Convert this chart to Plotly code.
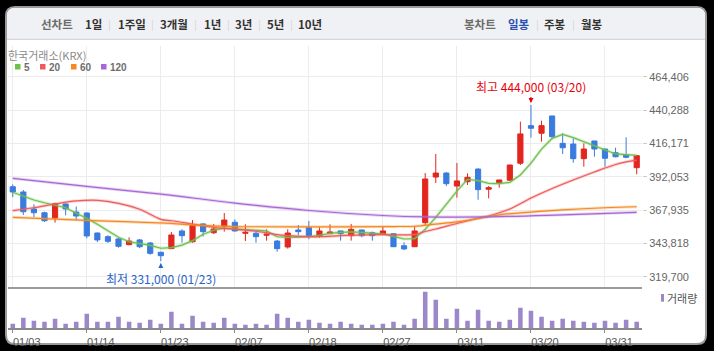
import plotly.graph_objects as go

# ---------------- data ----------------
dates = ["01/03", "01/06", "01/07", "01/08", "01/09", "01/10", "01/13", "01/14", "01/15", "01/16",
         "01/17", "01/20", "01/21", "01/22", "01/23", "01/24", "01/31", "02/03", "02/04", "02/05",
         "02/06", "02/07", "02/10", "02/11", "02/12", "02/13", "02/14", "02/17", "02/18", "02/19",
         "02/20", "02/21", "02/24", "02/25", "02/26", "02/27", "02/28", "03/04", "03/05", "03/06",
         "03/07", "03/10", "03/11", "03/12", "03/13", "03/14", "03/17", "03/18", "03/19", "03/20",
         "03/21", "03/24", "03/25", "03/26", "03/27", "03/28", "03/31", "04/01", "04/02", "04/03"]

opens = [384800, 381000, 368700, 366000, 362200, 372300, 366500, 365800, 351300, 348700,
         347000, 342900, 346300, 344100, 337400, 340000, 352800, 345000, 357900, 351500,
         356200, 359100, 351100, 351100, 349700, 345500, 341200, 353500, 355200, 348900,
         350800, 352800, 349400, 353500, 351500, 350800, 350800, 342100, 341400, 358800,
         391800, 394700, 385300, 388400, 397600, 383000, 387700, 389500, 401800, 429000,
         423500, 436000, 416200, 415700, 405100, 417900, 412100, 409400, 407800, 398600]
highs = [386500, 382400, 372100, 366700, 373200, 372800, 370400, 366300, 351800, 349700,
         347900, 348200, 347000, 344800, 337800, 352000, 354000, 360700, 358400, 357900,
         365800, 361200, 357600, 352500, 354000, 346300, 354000, 357100, 360000, 355500,
         357600, 352900, 357900, 353700, 352300, 355900, 351000, 344600, 356400, 394700,
         408500, 395500, 402000, 394500, 398100, 385300, 389800, 400700, 431900, 444000,
         432600, 436000, 423500, 419800, 416200, 418000, 412300, 413000, 420600, 407500]
lows = [377200, 364400, 362700, 359300, 358800, 364100, 360500, 347500, 344800, 344100,
        340700, 342400, 340300, 335600, 331000, 339800, 344300, 344300, 348700, 350600,
        352300, 352300, 345500, 344300, 345800, 337800, 340000, 349700, 346800, 347900,
        350800, 345800, 345800, 348200, 345800, 349900, 341200, 339000, 341200, 357100,
        387500, 385300, 376900, 386100, 375400, 376400, 384100, 389000, 400500, 420300,
        417400, 419100, 408500, 402200, 399300, 406500, 399300, 406100, 405400, 393800]
closes = [381000, 366700, 366000, 360200, 372500, 368700, 363600, 349200, 346300, 345300,
          341700, 345500, 341400, 336600, 334900, 349900, 349400, 356900, 352300, 354200,
          360700, 352800, 351800, 348700, 350400, 340000, 351300, 352300, 349400, 352800,
          352100, 350800, 354000, 349400, 349400, 352800, 341400, 339800, 352800, 390400,
          394700, 387000, 389000, 391600, 382700, 384100, 389700, 400500, 423000, 427100,
          429000, 421000, 413000, 405100, 412100, 412100, 405400, 406500, 406100, 407300]
volumes = [130000, 310000, 220000, 190000, 280000, 130000, 190000, 430000, 190000, 190000,
           340000, 190000, 160000, 250000, 130000, 490000, 130000, 370000, 190000, 160000,
           310000, 130000, 100000, 130000, 100000, 430000, 310000, 190000, 250000, 160000,
           130000, 190000, 130000, 100000, 100000, 130000, 190000, 100000, 280000, 1090000,
           850000, 280000, 580000, 220000, 550000, 220000, 190000, 250000, 610000, 520000,
           340000, 220000, 280000, 220000, 190000, 160000, 220000, 160000, 250000, 190000]

ma5 = [380800, 378100, 375200, 373200, 371600, 369600, 365600, 362000, 357600, 352800,
       348200, 345000, 343900, 342400, 340300, 340700, 342600, 345800, 350400, 353300,
       354900, 354400, 353700, 353300, 352800, 348600, 348200, 348400, 348600, 349700,
       351100, 351800, 352100, 351800, 351300, 350600, 348900, 347000, 347200, 354000,
       362700, 372100, 381700, 390200, 389200, 387300, 387000, 388000, 393300, 401800,
       412000, 419800, 422700, 420300, 417400, 414500, 411200, 408500, 408000, 407500]
ma20_idx = [0, 2, 4, 6, 8, 10, 12, 14, 15, 17, 19, 21, 23, 25, 27, 29, 31, 33, 35, 37,
            38, 39, 40, 42, 44, 45, 47, 49, 51, 53, 55, 57, 58, 59]
ma20_val = [367500, 369600, 372300, 374500, 375000, 372800, 368500, 361200, 360200, 357800,
            355400, 354000, 352600, 350100, 348900, 348600, 349400, 349900, 350200, 349900,
            350200, 352400, 354200, 358200, 362000, 363600, 368700, 376600, 383500, 389700,
            395500, 400900, 402800, 404100]
ma60_idx = [0, 7, 14, 18, 21, 30, 36, 38, 40, 42, 44, 46, 49, 52, 56, 59]
ma60_val = [362700, 360500, 358600, 356800, 356000, 355800, 356000, 356200, 357800, 359400,
            361800, 364500, 366500, 368100, 369600, 370300]
ma120_idx = [0, 7, 14, 21, 28, 35, 39, 46, 52, 59]
ma120_val = [390900, 385000, 379500, 373000, 367600, 364000, 363000, 363200, 364500, 366300]

y_ticks = [319700, 343818, 367935, 392053, 416171, 440288, 464406]
y_tick_labels = ["319,700", "343,818", "367,935", "392,053", "416,171", "440,288", "464,406"]
x_tick_labels = ["01/03", "01/14", "01/23", "02/07", "02/18", "02/27", "03/11", "03/20", "03/31"]

period_items = ["1일", "1주일", "3개월", "1년", "3년", "5년", "10년"]
candle_items = ["일봉", "주봉", "월봉"]
ma_names = ["5", "20", "60", "120"]

# ---------------- style ----------------
RED = "#e2261f"
BLUE = "#3a7be0"
MA_COLORS = ["#6cc24a", "#ef5b5b", "#f5891f", "#a866d6"]
VOL_COLOR = "#9c88c8"
KR = "Noto Sans CJK KR"
LAT = "Liberation Sans"

W, H = 714, 351
ML, MR, MT, MB = 8, 72, 46, 23
PW, PH = W - ML - MR, H - MT - MB


def PX(px):
    return (px - ML) / PW


def PY(py):
    return (H - MB - py) / PH


split = PY(286.7)
XR = [-0.45, 59.5]

fig = go.Figure()

fig.add_trace(go.Candlestick(
    x=dates, open=opens, high=highs, low=lows, close=closes,
    increasing=dict(line=dict(color=RED, width=1), fillcolor=RED),
    decreasing=dict(line=dict(color=BLUE, width=1), fillcolor=BLUE),
    whiskerwidth=0, xaxis="x", yaxis="y", showlegend=False, hoverinfo="skip"))

ma_sets = [
    (dates, ma5, "linear"),
    ([dates[i] for i in ma20_idx], ma20_val, "spline"),
    ([dates[i] for i in ma60_idx], ma60_val, "spline"),
    ([dates[i] for i in ma120_idx], ma120_val, "spline"),
]
for (xs, ys, shp), col in zip(ma_sets, MA_COLORS):
    fig.add_trace(go.Scatter(x=xs, y=ys, mode="lines", xaxis="x", yaxis="y",
                             line=dict(color=col, width=3, shape=shp), opacity=0.28,
                             showlegend=False, hoverinfo="skip"))
    fig.add_trace(go.Scatter(x=xs, y=ys, mode="lines", xaxis="x", yaxis="y",
                             line=dict(color=col, width=1.2, shape=shp),
                             showlegend=False, hoverinfo="skip"))

fig.add_trace(go.Bar(x=dates, y=volumes, marker_color=VOL_COLOR, marker_line_width=0,
                     width=0.43, xaxis="x2", yaxis="y2", showlegend=False, hoverinfo="skip"))

shapes = []


def rrect(x0, y0, x1, y1, r, top_only=False):
    X0, X1 = PX(x0), PX(x1)
    Yt, Yb = PY(y0), PY(y1)
    rx, ry = r / PW, r / PH
    if top_only:
        return (f"M {X0},{Yb} L {X0},{Yt-ry} Q {X0},{Yt} {X0+rx},{Yt} L {X1-rx},{Yt} "
                f"Q {X1},{Yt} {X1},{Yt-ry} L {X1},{Yb} Z")
    return (f"M {X0+rx},{Yt} L {X1-rx},{Yt} Q {X1},{Yt} {X1},{Yt-ry} L {X1},{Yb+ry} "
            f"Q {X1},{Yb} {X1-rx},{Yb} L {X0+rx},{Yb} Q {X0},{Yb} {X0},{Yb+ry} "
            f"L {X0},{Yt-ry} Q {X0},{Yt} {X0+rx},{Yt} Z")


shapes.append(dict(type="path", xref="paper", yref="paper", layer="below",
                   path=rrect(6, 7, 706, 344, 9), fillcolor="white",
                   line=dict(color="#9a9a9a", width=2)))
shapes.append(dict(type="path", xref="paper", yref="paper", layer="below",
                   path=rrect(7, 8, 705, 39, 8, top_only=True), fillcolor="#f0f1f5",
                   line=dict(width=0)))
shapes.append(dict(type="line", xref="paper", yref="paper", layer="below",
                   x0=PX(7), x1=PX(705), y0=PY(39.3), y1=PY(39.3),
                   line=dict(color="#cbccd4", width=1)))

annotations = []


def txt(text, px, py, size, color, bold=False, anchor="center", family=KR):
    annotations.append(dict(text=f"<b>{text}</b>" if bold else text, x=PX(px), y=PY(py),
                            xref="paper", yref="paper", showarrow=False,
                            xanchor=anchor, yanchor="middle", borderpad=0,
                            font=dict(size=size, color=color, family=family)))


# top bar
txt("선차트", 56.7, 24, 11.5, "#6b6b6b", bold=True)
for t, cx in zip(period_items, [93.3, 132, 174, 212, 243, 275, 310]):
    txt(t, cx, 24, 11.5, "#333333", bold=True)
for sx in [109, 152, 195, 228, 259, 291, 537, 573]:
    txt("|", sx, 23.5, 10, "#d2d2d8")
txt("봉차트", 479.5, 24, 11.5, "#6b6b6b", bold=True)
for t, cx, col in zip(candle_items, [519, 555, 591.7], ["#2b4fae", "#333333", "#333333"]):
    txt(t, cx, 24, 11.5, col, bold=True)

# source & MA legend
txt("한국거래소(KRX)", 6.5, 55.5, 11, "#8a8a8a", anchor="left")
for name, col, sx in zip(ma_names, MA_COLORS, [15, 40, 71, 101]):
    shapes.append(dict(type="rect", xref="paper", yref="paper", x0=PX(sx), x1=PX(sx + 5.5),
                       y0=PY(69.5), y1=PY(64), fillcolor=col, line=dict(width=0)))
    txt(name, sx + 7.5, 67.5, 10, "#6e6e6e", bold=True, anchor="left", family=LAT)

# volume legend
shapes.append(dict(type="rect", xref="paper", yref="paper", x0=PX(661), x1=PX(664),
                   y0=PY(301.7), y1=PY(294), fillcolor=VOL_COLOR, line=dict(width=0)))
txt("거래량", 665.5, 297.8, 11, "#555555", anchor="left")

# high / low markers
i_hi = highs.index(max(highs))
i_lo = lows.index(min(lows))
annotations.append(dict(x=dates[i_hi], y=highs[i_hi], xref="x", yref="y",
                        text=f"최고 {highs[i_hi]:,} ({dates[i_hi]})", showarrow=True,
                        arrowhead=2, arrowsize=0.9, arrowwidth=1.1, arrowcolor="#e8000c",
                        ax=0, ay=-18, standoff=2, font=dict(size=12, color="#e8000c", family=KR)))
annotations.append(dict(x=dates[i_lo], y=lows[i_lo], xref="x", yref="y",
                        text=f"최저 {lows[i_lo]:,} ({dates[i_lo]})", showarrow=True,
                        arrowhead=2, arrowsize=0.9, arrowwidth=1.1, arrowcolor="#2a63c9",
                        ax=0, ay=17, standoff=2, font=dict(size=12, color="#2a63c9", family=KR)))

fig.update_layout(
    width=W, height=H, margin=dict(l=ML, r=MR, t=MT, b=MB, autoexpand=False),
    paper_bgcolor="black", plot_bgcolor="rgba(0,0,0,0)",
    showlegend=False, shapes=shapes, annotations=annotations,
    xaxis=dict(domain=[0, 1], anchor="y", type="category", categoryorder="array",
               categoryarray=dates, range=XR, autorange=False, tickvals=x_tick_labels,
               showticklabels=False, showgrid=True, gridcolor="#ececec", gridwidth=1,
               showline=True, linecolor="#9a9a9a", linewidth=1.5, ticks="",
               rangeslider=dict(visible=False), automargin=False),
    xaxis2=dict(domain=[0, 1], anchor="y2", type="category", categoryorder="array",
                categoryarray=dates, range=XR, autorange=False,
                tickvals=x_tick_labels, ticktext=x_tick_labels, showgrid=False,
                showline=True, linecolor="#8a8a8a", linewidth=1.5, ticks="outside",
                ticklen=3, tickcolor="#8a8a8a", ticklabelshift=14, automargin=False,
                tickfont=dict(size=11, color="#555555", family=LAT)),
    yaxis=dict(domain=[split, 1], anchor="x", side="right", range=[312473, 486619],
               autorange=False, tickvals=y_ticks, ticktext=y_tick_labels, showgrid=True,
               gridcolor="#ececec", zeroline=False, ticks="outside", ticklen=4,
               tickcolor="#cccccc", automargin=False,
               tickfont=dict(size=11, color="#666666", family=LAT)),
    yaxis2=dict(domain=[0, split], anchor="x2", range=[0, 1240000], autorange=False,
                showticklabels=False, showgrid=False, zeroline=False, automargin=False),
)

fig.write_html("out.html")
